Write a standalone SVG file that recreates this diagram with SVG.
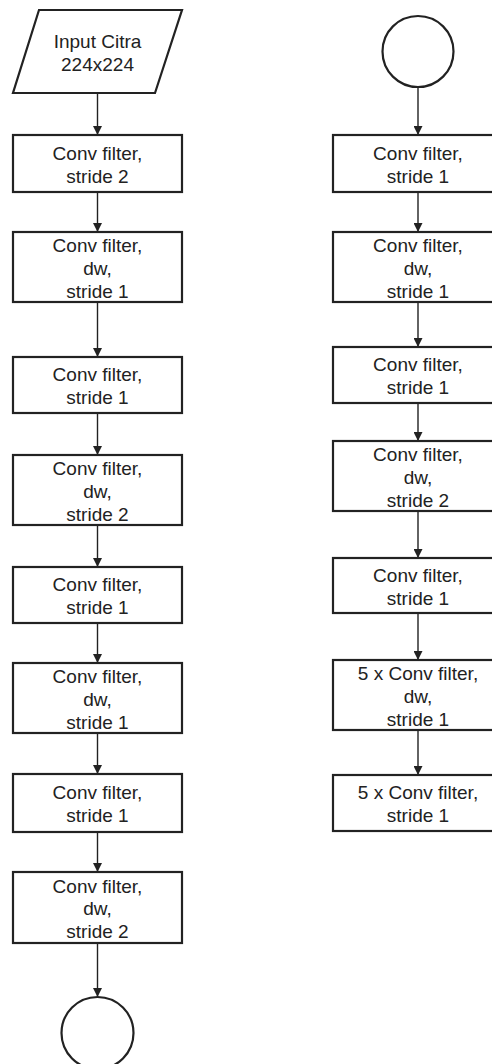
<svg xmlns="http://www.w3.org/2000/svg" width="492" height="1064" viewBox="0 0 492 1064">
<style>
.box{fill:#fff;stroke:#222;stroke-width:2.2}
.edge{stroke:#222;stroke-width:1.4;fill:none;marker-end:url(#ah)}
text{font-family:"Liberation Sans",Arial,sans-serif;font-size:19px;fill:#222;text-anchor:middle}
</style>
<defs>
<marker id="ah" viewBox="0 0 10 10" refX="10" refY="5" markerWidth="9" markerHeight="9" orient="auto" markerUnits="userSpaceOnUse">
<path d="M0,0 L10,5 L0,10 z" fill="#222"/>
</marker>
</defs>
<rect width="492" height="1064" fill="#fff"/>
<g id="connectors">
<line class="edge" x1="97.5" y1="93" x2="97.5" y2="135"/>
<line class="edge" x1="97.5" y1="192" x2="97.5" y2="232"/>
<line class="edge" x1="97.5" y1="302" x2="97.5" y2="357"/>
<line class="edge" x1="97.5" y1="413" x2="97.5" y2="455"/>
<line class="edge" x1="97.5" y1="525" x2="97.5" y2="567"/>
<line class="edge" x1="97.5" y1="623" x2="97.5" y2="663"/>
<line class="edge" x1="97.5" y1="733" x2="97.5" y2="774"/>
<line class="edge" x1="97.5" y1="832" x2="97.5" y2="872"/>
<line class="edge" x1="97.5" y1="943" x2="97.5" y2="997"/>
<line class="edge" x1="418" y1="87" x2="418" y2="135"/>
<line class="edge" x1="418" y1="192" x2="418" y2="232"/>
<line class="edge" x1="418" y1="302" x2="418" y2="347"/>
<line class="edge" x1="418" y1="403" x2="418" y2="441"/>
<line class="edge" x1="418" y1="511" x2="418" y2="558"/>
<line class="edge" x1="418" y1="613" x2="418" y2="660"/>
<line class="edge" x1="418" y1="730" x2="418" y2="775"/>
</g>
<g id="input">
<polygon class="box" points="39,10 182,10 155,93 13,93"/>
<text x="97.5" y="48">Input Citra</text>
<text x="97.5" y="71">224x224</text>
</g>
<g id="L1"><rect class="box" x="13" y="135" width="169" height="57"/><text x="97.5" y="160">Conv filter,</text><text x="97.5" y="182.8">stride 2</text></g>
<g id="L2"><rect class="box" x="13" y="232" width="169" height="70"/><text x="97.5" y="252">Conv filter,</text><text x="97.5" y="274.8">dw,</text><text x="97.5" y="297.6">stride 1</text></g>
<g id="L3"><rect class="box" x="13" y="357" width="169" height="56"/><text x="97.5" y="381.3">Conv filter,</text><text x="97.5" y="404.1">stride 1</text></g>
<g id="L4"><rect class="box" x="13" y="455" width="169" height="70"/><text x="97.5" y="475">Conv filter,</text><text x="97.5" y="497.8">dw,</text><text x="97.5" y="520.6">stride 2</text></g>
<g id="L5"><rect class="box" x="13" y="567" width="169" height="56"/><text x="97.5" y="591.3">Conv filter,</text><text x="97.5" y="614.1">stride 1</text></g>
<g id="L6"><rect class="box" x="13" y="663" width="169" height="70"/><text x="97.5" y="683">Conv filter,</text><text x="97.5" y="705.8">dw,</text><text x="97.5" y="728.6">stride 1</text></g>
<g id="L7"><rect class="box" x="13" y="774" width="169" height="58"/><text x="97.5" y="799.3">Conv filter,</text><text x="97.5" y="822.1">stride 1</text></g>
<g id="L8"><rect class="box" x="13" y="872" width="169" height="71"/><text x="97.5" y="892.5">Conv filter,</text><text x="97.5" y="915.3">dw,</text><text x="97.5" y="938.1">stride 2</text></g>
<g id="endL"><circle class="box" cx="97.5" cy="1033" r="36"/></g>
<g id="startR"><circle class="box" cx="418" cy="51.5" r="35.5"/></g>
<g id="R1"><rect class="box" x="333" y="135" width="170" height="57"/><text x="418" y="160">Conv filter,</text><text x="418" y="182.8">stride 1</text></g>
<g id="R2"><rect class="box" x="333" y="232" width="170" height="70"/><text x="418" y="252">Conv filter,</text><text x="418" y="274.8">dw,</text><text x="418" y="297.6">stride 1</text></g>
<g id="R3"><rect class="box" x="333" y="347" width="170" height="56"/><text x="418" y="371.3">Conv filter,</text><text x="418" y="394.1">stride 1</text></g>
<g id="R4"><rect class="box" x="333" y="441" width="170" height="70"/><text x="418" y="461">Conv filter,</text><text x="418" y="483.8">dw,</text><text x="418" y="506.6">stride 2</text></g>
<g id="R5"><rect class="box" x="333" y="558" width="170" height="55"/><text x="418" y="581.8">Conv filter,</text><text x="418" y="604.6">stride 1</text></g>
<g id="R6"><rect class="box" x="333" y="660" width="170" height="70"/><text x="418" y="680">5 x Conv filter,</text><text x="418" y="702.8">dw,</text><text x="418" y="725.6">stride 1</text></g>
<g id="R7"><rect class="box" x="333" y="775" width="170" height="56"/><text x="418" y="799.3">5 x Conv filter,</text><text x="418" y="822.1">stride 1</text></g>
</svg>
